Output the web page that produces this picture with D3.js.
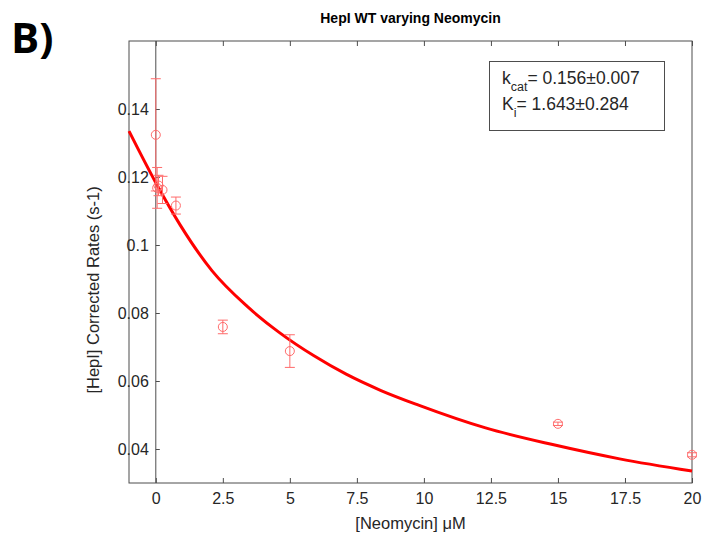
<!DOCTYPE html>
<html>
<head>
<meta charset="utf-8">
<script src="https://cdn.jsdelivr.net/npm/d3@7"></script>
<style>
  body { margin: 0; background: #fff; }
  svg { display: block; }
  text { font-family: "Liberation Sans", Arial, sans-serif; fill: #262626; }
</style>
</head>
<body>
<svg id="chart" width="705" height="541"></svg>
<script>
// measured concentrations and rates
var neomycin = [0, 0.05, 0.1, 0.25, 0.75, 2.5, 5, 15, 20],
    rates    = [0.1324, 0.1168, 0.1175, 0.1162, 0.1116, 0.0759, 0.0688, 0.0474, 0.0383],
    errs     = [0.0165, 0.006, 0.0030, 0.0040, 0.0025, 0.0020, 0.0048, 0.0005, 0.0006];

// fitted curve
var fitX = [-1, 0, 0.9, 2.1, 3.4, 4.6, 5.9, 7.1, 8.4, 9.8, 12.3, 14.8, 17.3, 20],
    fitY = [0.1335, 0.1183, 0.1060, 0.0924, 0.0820, 0.0743, 0.0674, 0.0620, 0.0572, 0.0529, 0.0462, 0.0413, 0.0371, 0.0335];

var xTicks = [0, 2.5, 5, 7.5, 10, 12.5, 15, 17.5, 20],
    xTickLabels = ['0', '2.5', '5', '7.5', '10', '12.5', '15', '17.5', '20'],
    yTicks = [0.04, 0.06, 0.08, 0.1, 0.12, 0.14],
    yTickLabels = ['0.04', '0.06', '0.08', '0.1', '0.12', '0.14'];

var
  svg = d3.select('#chart'),
  pLeft = 129, pRight = 692, pTop = 41, pBottom = 483,
  x = d3.scaleLinear().domain([-1, 20]).range([pLeft, pRight]),
  y = d3.scaleLinear().domain([0.03, 0.16]).range([pBottom, pTop]),
  axisColor = '#4d4d4d',
  markColor = '#ff6b6b';

// panel letter and title
svg.append('text').attr('x', 11).attr('y', 53)
  .style('font-family', '"Open Sans", "Noto Sans", sans-serif')
  .style('font-weight', 'bold').style('font-size', '42px').style('fill', '#000')
  .text('B)');

svg.append('text').attr('x', (pLeft + pRight) / 2).attr('y', 23)
  .attr('text-anchor', 'middle').style('font-weight', 'bold').style('font-size', '14px')
  .style('fill', '#000')
  .text('HepI WT varying Neomycin');

// box
svg.append('rect').attr('x', pLeft).attr('y', pTop)
  .attr('width', pRight - pLeft).attr('height', pBottom - pTop)
  .attr('fill', 'none').attr('stroke', axisColor);

// x axis on the bottom, ticks repeated on top; y axis sits at x = 0
var xAxis = d3.axisBottom(x).tickValues(xTicks).tickSize(-5).tickPadding(10)
  .tickFormat(function(d, i) { return xTickLabels[i]; });
var yAxis = d3.axisLeft(y).tickValues(yTicks).tickSize(-4).tickPadding(7)
  .tickFormat(function(d, i) { return yTickLabels[i]; });

var gx = svg.append('g').attr('transform', 'translate(0,' + pBottom + ')').call(xAxis);
var gxt = svg.append('g').attr('transform', 'translate(0,' + pTop + ')')
  .call(d3.axisTop(x).tickValues(xTicks).tickSize(-5).tickFormat(''));
var gy = svg.append('g').attr('transform', 'translate(' + x(0) + ',0)').call(yAxis);

[gx, gxt, gy].forEach(function(g) {
  g.select('.domain').remove();
  g.selectAll('.tick line').attr('stroke', axisColor);
  g.selectAll('.tick text').style('font-size', '16px').style('fill', '#262626')
    .style('font-family', '"Liberation Sans", Arial, sans-serif');
});

// zero line (y axis)
svg.append('line')
  .attr('x1', x(0)).attr('x2', x(0)).attr('y1', pTop).attr('y2', pBottom)
  .attr('stroke', axisColor).attr('stroke-width', 1);

// axis labels
svg.append('text').attr('x', (pLeft + pRight) / 2).attr('y', 529)
  .attr('text-anchor', 'middle').style('font-size', '16.5px')
  .text('[Neomycin] \u03bcM');

svg.append('text')
  .attr('transform', 'translate(99,290) rotate(-90)')
  .attr('text-anchor', 'middle').style('font-size', '16.5px')
  .text('[HepI] Corrected Rates (s-1)');

// fit line
var line = d3.line()
  .x(function(d) { return x(d[0]); })
  .y(function(d) { return y(d[1]); })
  .curve(d3.curveMonotoneX);

svg.append('path')
  .datum(d3.zip(fitX, fitY))
  .attr('d', line)
  .attr('fill', 'none').attr('stroke', '#ff0000').attr('stroke-width', 3);

// data points with error bars
var pts = svg.append('g').selectAll('g')
  .data(d3.zip(neomycin, rates, errs))
  .enter().append('g');

pts.append('line')
  .attr('x1', function(d) { return x(d[0]); }).attr('x2', function(d) { return x(d[0]); })
  .attr('y1', function(d) { return y(d[1] - d[2]); }).attr('y2', function(d) { return y(d[1] + d[2]); })
  .attr('stroke', markColor);
[-1, 1].forEach(function(s) {
  pts.append('line')
    .attr('x1', function(d) { return x(d[0]) - 5; }).attr('x2', function(d) { return x(d[0]) + 5; })
    .attr('y1', function(d) { return y(d[1] + s * d[2]); }).attr('y2', function(d) { return y(d[1] + s * d[2]); })
    .attr('stroke', markColor);
});
pts.append('circle')
  .attr('cx', function(d) { return x(d[0]); }).attr('cy', function(d) { return y(d[1]); })
  .attr('r', 4.5).attr('fill', 'none').attr('stroke', markColor);

// parameter box
svg.append('rect').attr('x', 489.5).attr('y', 61.5).attr('width', 175).attr('height', 69)
  .attr('fill', '#fff').attr('stroke', axisColor);

var t1 = svg.append('text').attr('x', 502).attr('y', 84).style('font-size', '17.5px');
t1.append('tspan').text('k');
t1.append('tspan').attr('dy', 7).style('font-size', '12.5px').text('cat');
t1.append('tspan').attr('dy', -7).text('= 0.156\u00b10.007');

var t2 = svg.append('text').attr('x', 502).attr('y', 110).style('font-size', '17.5px');
t2.append('tspan').text('K');
t2.append('tspan').attr('dy', 7).style('font-size', '12.5px').text('i');
t2.append('tspan').attr('dy', -7).text('= 1.643\u00b10.284');
</script>
</body>
</html>
